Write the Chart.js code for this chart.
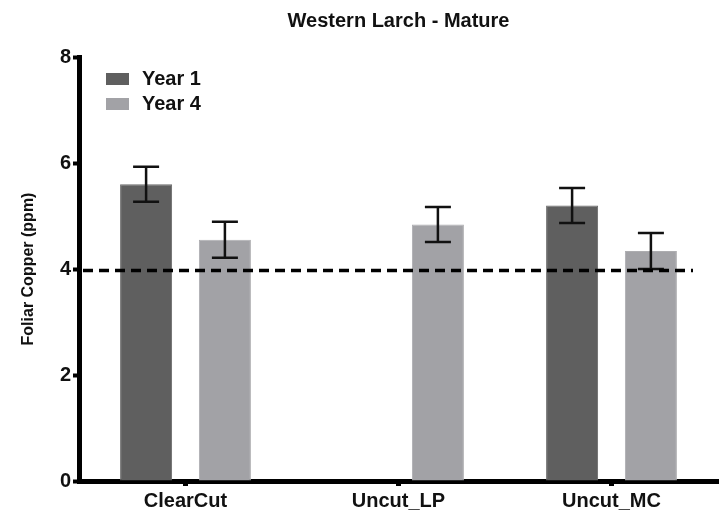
<!DOCTYPE html>
<html>
<head>
<meta charset="utf-8">
<script src="https://cdn.jsdelivr.net/npm/chart.js@4/dist/chart.umd.min.js"></script>
<style>
  html, body { margin: 0; padding: 0; background: #fff; }
  canvas { display: block; }
</style>
</head>
<body>
<canvas id="myChart" width="720" height="512"></canvas>
<script>
const categories = ['ClearCut', 'Uncut_LP', 'Uncut_MC'];
const year1Values = [5.6, null, 5.2];
const year1Errors = [0.33, null, 0.33];
const year4Values = [4.55, 4.84, 4.34];
const year4Errors = [0.34, 0.33, 0.34];
const referenceValue = 3.97;

document.addEventListener('DOMContentLoaded', function() {
    const ctx = document.getElementById('myChart').getContext('2d');
    Chart.defaults.font.family = '"Liberation Sans", Arial, sans-serif';
    Chart.defaults.color = '#111';

    // error bars + dashed reference line, drawn over the bars
    const extrasPlugin = {
        id: 'extras',
        afterDatasetsDraw(chart) {
            const c = chart.ctx;
            const yScale = chart.scales.y;
            const area = chart.chartArea;
            c.save();
            chart.data.datasets.forEach(function(ds, i) {
                const meta = chart.getDatasetMeta(i);
                meta.data.forEach(function(bar, j) {
                    const v = ds.data[j];
                    const e = ds.errors[j];
                    if (v == null || e == null) return;
                    const top = yScale.getPixelForValue(v + e);
                    const bottom = yScale.getPixelForValue(v - e);
                    c.strokeStyle = '#111';
                    c.lineWidth = 2.5;
                    c.beginPath();
                    c.moveTo(bar.x, top);
                    c.lineTo(bar.x, bottom);
                    c.moveTo(bar.x - 13, top);
                    c.lineTo(bar.x + 13, top);
                    c.moveTo(bar.x - 13, bottom);
                    c.lineTo(bar.x + 13, bottom);
                    c.stroke();
                });
            });
            const yRef = yScale.getPixelForValue(referenceValue);
            c.strokeStyle = '#000';
            c.lineWidth = 3.5;
            c.setLineDash([10, 6]);
            c.beginPath();
            c.moveTo(area.left + 4, yRef);
            c.lineTo(area.right - 25, yRef);
            c.stroke();
            c.restore();
        },
        afterDraw(chart) {
            // legend inside the plot, top left
            const c = chart.ctx;
            const area = chart.chartArea;
            c.save();
            c.font = 'bold 20px "Liberation Sans", Arial, sans-serif';
            c.textBaseline = 'middle';
            chart.data.datasets.forEach(function(ds, i) {
                const y = area.top + 16 + i * 25;
                c.fillStyle = ds.backgroundColor;
                c.fillRect(area.left + 27, y, 23, 12);
                c.fillStyle = '#111';
                c.fillText(ds.label, area.left + 63, y + 6);
            });
            c.restore();
        }
    };

    let myChart = new Chart(ctx, {
        type: 'bar',
        data: {
            labels: categories,
            datasets: [{
                label: 'Year 1',
                data: year1Values,
                errors: year1Errors,
                backgroundColor: '#5f5f5f',
                borderColor: '#6a6a6a',
                borderWidth: 1
            }, {
                label: 'Year 4',
                data: year4Values,
                errors: year4Errors,
                backgroundColor: '#a2a2a6',
                borderColor: '#adadb0',
                borderWidth: 1
            }]
        },
        options: {
            responsive: false,
            animation: false,
            categoryPercentage: 0.74,
            barPercentage: 0.66,
            layout: { padding: { left: 19, right: 2, top: 0, bottom: 0 } },
            plugins: {
                legend: { display: false },
                tooltip: { enabled: false },
                title: {
                    display: true,
                    text: 'Western Larch - Mature',
                    fullSize: false,
                    font: { size: 20, weight: 'bold' },
                    color: '#111',
                    padding: { top: 9, bottom: 24 }
                }
            },
            scales: {
                x: {
                    afterFit: function(scale) { scale.height = 31; },
                    border: { display: true, color: '#000', width: 5 },
                    grid: {
                        offset: false,
                        drawOnChartArea: false,
                        drawTicks: true,
                        tickLength: 5,
                        tickWidth: 5,
                        tickColor: '#000'
                    },
                    ticks: {
                        padding: 3,
                        color: '#111',
                        font: { size: 20, weight: 'bold' }
                    }
                },
                y: {
                    min: 0,
                    max: 8,
                    afterFit: function(scale) { scale.width = 60; },
                    border: { display: true, color: '#000', width: 5 },
                    grid: {
                        drawOnChartArea: false,
                        drawTicks: true,
                        tickLength: 6,
                        tickWidth: 4,
                        tickColor: '#000'
                    },
                    ticks: {
                        stepSize: 2,
                        padding: 2,
                        color: '#111',
                        font: { size: 20, weight: 'bold' }
                    },
                    title: {
                        display: true,
                        text: 'Foliar Copper (ppm)',
                        color: '#111',
                        font: { size: 16, weight: 'bold' },
                        padding: 0
                    }
                }
            }
        },
        plugins: [extrasPlugin]
    });
});
</script>
</body>
</html>
